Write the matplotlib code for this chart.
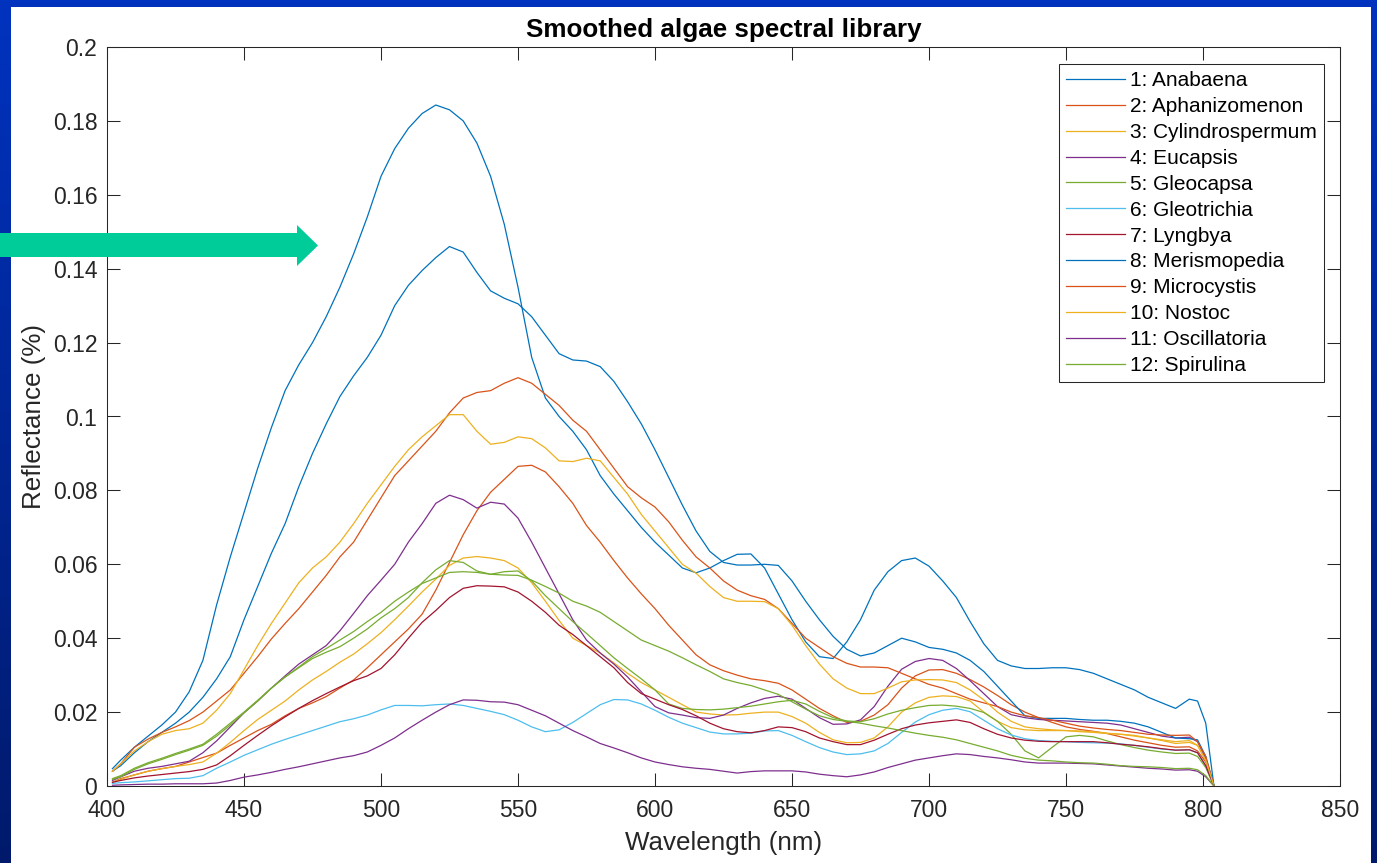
import numpy as np
import matplotlib.pyplot as plt
from matplotlib.patches import Polygon, Rectangle
from matplotlib.ticker import FuncFormatter

plt.rcParams['font.family'] = ['Liberation Sans', 'DejaVu Sans']

# wavelength grid (nm) the spectra were read on
wavelength = np.r_[402, np.arange(405, 800, 5), 798, 801, 804]

anabaena = [
    0.0047, 0.007, 0.0105, 0.0135, 0.0165, 0.020, 0.0255, 0.034, 0.049, 0.062,
    0.074, 0.086, 0.097, 0.107, 0.114, 0.120, 0.127, 0.135, 0.144, 0.154,
    0.165, 0.1725, 0.178, 0.182, 0.1843, 0.183, 0.180, 0.174, 0.165, 0.152,
    0.135, 0.116, 0.105, 0.100, 0.096, 0.091, 0.084, 0.079, 0.0745, 0.070,
    0.066, 0.0625, 0.059, 0.0577, 0.059, 0.061, 0.0627, 0.0628, 0.059, 0.052,
    0.045, 0.039, 0.035, 0.0345, 0.039, 0.045, 0.053, 0.058, 0.061, 0.0617,
    0.0595, 0.0555, 0.051, 0.0445, 0.0385, 0.034, 0.0325, 0.0318, 0.0318, 0.032,
    0.032, 0.0315, 0.0305, 0.029, 0.0275, 0.026, 0.024, 0.0225, 0.021, 0.0235,
    0.023, 0.017, 0.0]
aphanizomenon = [
    0.001, 0.002, 0.003, 0.004, 0.0047, 0.0053, 0.0065, 0.0077, 0.0089, 0.011,
    0.013, 0.015, 0.0167, 0.019, 0.021, 0.0225, 0.0242, 0.0265, 0.0287, 0.032,
    0.0355, 0.039, 0.0425, 0.0465, 0.053, 0.0605, 0.068, 0.0745, 0.0795, 0.083,
    0.0865, 0.0868, 0.085, 0.081, 0.0765, 0.0705, 0.066, 0.061, 0.0563, 0.052,
    0.048, 0.0435, 0.0395, 0.0355, 0.0328, 0.0312, 0.030, 0.029, 0.0285, 0.0278,
    0.026, 0.0235, 0.021, 0.019, 0.0172, 0.0175, 0.0192, 0.022, 0.0265, 0.0298,
    0.0314, 0.0315, 0.0305, 0.0288, 0.0268, 0.0245, 0.022, 0.020, 0.0185, 0.0172,
    0.016, 0.0153, 0.0148, 0.0142, 0.0133, 0.0124, 0.0117, 0.011, 0.0105, 0.0106,
    0.0095, 0.0065, 0.0]
cylindrospermum = [
    0.001, 0.0018, 0.003, 0.004, 0.0047, 0.0053, 0.0058, 0.0065, 0.0089, 0.0118,
    0.015, 0.018, 0.0205, 0.023, 0.026, 0.0287, 0.031, 0.0335, 0.0357, 0.0385,
    0.0415, 0.045, 0.0487, 0.0525, 0.056, 0.0597, 0.0617, 0.0621, 0.0617, 0.061,
    0.059, 0.055, 0.050, 0.0448, 0.040, 0.038, 0.036, 0.0333, 0.0305, 0.028,
    0.026, 0.024, 0.022, 0.020, 0.0195, 0.0192, 0.0193, 0.0197, 0.020, 0.020,
    0.0188, 0.017, 0.0145, 0.0125, 0.0117, 0.0118, 0.013, 0.016, 0.020, 0.0225,
    0.024, 0.0244, 0.0242, 0.023, 0.020, 0.0175, 0.0158, 0.0152, 0.015, 0.015,
    0.015, 0.0149, 0.0147, 0.0143, 0.014, 0.0135, 0.013, 0.0123, 0.0115, 0.0118,
    0.011, 0.007, 0.0]
eucapsis = [
    0.0015, 0.0025, 0.004, 0.0048, 0.0053, 0.006, 0.0067, 0.009, 0.0122, 0.016,
    0.0198, 0.023, 0.0265, 0.0298, 0.033, 0.0355, 0.038, 0.042, 0.0467, 0.0515,
    0.0557, 0.060, 0.066, 0.071, 0.0765, 0.0787, 0.0775, 0.0752, 0.0768, 0.0763,
    0.0725, 0.066, 0.059, 0.052, 0.045, 0.0395, 0.036, 0.033, 0.0295, 0.0255,
    0.0215, 0.0198, 0.0192, 0.0185, 0.0183, 0.0192, 0.021, 0.0225, 0.0237, 0.0243,
    0.0235, 0.021, 0.0185, 0.0167, 0.0168, 0.0179, 0.0215, 0.027, 0.0316, 0.0337,
    0.0345, 0.034, 0.0318, 0.0285, 0.025, 0.0215, 0.0193, 0.0185, 0.018, 0.0178,
    0.0176, 0.0174, 0.0172, 0.017, 0.0165, 0.0155, 0.0145, 0.0135, 0.013, 0.0132,
    0.012, 0.0075, 0.0]
gleocapsa = [
    0.0018, 0.0025, 0.0045, 0.006, 0.0072, 0.0085, 0.0097, 0.011, 0.0135, 0.0165,
    0.0198, 0.023, 0.0265, 0.0295, 0.032, 0.0345, 0.0362, 0.0377, 0.040, 0.0425,
    0.0455, 0.048, 0.051, 0.055, 0.0585, 0.061, 0.0605, 0.0582, 0.0573, 0.058,
    0.0582, 0.0555, 0.0515, 0.048, 0.0445, 0.0413, 0.038, 0.0347, 0.0318, 0.029,
    0.026, 0.0222, 0.021, 0.0207, 0.0206, 0.0208, 0.0212, 0.0216, 0.0222, 0.0228,
    0.0232, 0.0222, 0.0202, 0.0185, 0.0176, 0.0174, 0.0182, 0.0195, 0.0205, 0.0212,
    0.0218, 0.0219, 0.0216, 0.021, 0.0199, 0.0175, 0.014, 0.0095, 0.0076, 0.0105,
    0.0133, 0.0137, 0.0133, 0.0122, 0.0112, 0.0104, 0.0097, 0.0092, 0.0088, 0.0089,
    0.008, 0.005, 0.0]
gleotrichia = [
    0.0007, 0.0009, 0.0011, 0.0014, 0.0017, 0.002, 0.0021, 0.0028, 0.0048, 0.0065,
    0.0083, 0.0098, 0.0113, 0.0126, 0.0138, 0.015, 0.0162, 0.0174, 0.0182, 0.0192,
    0.0206, 0.0218, 0.0218, 0.0217, 0.022, 0.0222, 0.0218, 0.021, 0.0202, 0.0193,
    0.0178, 0.016, 0.0147, 0.0152, 0.0172, 0.0196, 0.022, 0.0234, 0.0233, 0.0222,
    0.0205, 0.0186, 0.017, 0.0158, 0.0146, 0.0141, 0.0141, 0.0143, 0.0149, 0.015,
    0.0137, 0.012, 0.0104, 0.0092, 0.0085, 0.0087, 0.0095, 0.0115, 0.0145, 0.0173,
    0.0193, 0.0205, 0.021, 0.0201, 0.0178, 0.0155, 0.0138, 0.0128, 0.0123, 0.0121,
    0.012, 0.0118, 0.0117, 0.0116, 0.0114, 0.011, 0.0105, 0.010, 0.0097, 0.0098,
    0.009, 0.0055, 0.0]
lyngbya = [
    0.001, 0.0015, 0.0022, 0.0027, 0.0031, 0.0035, 0.0039, 0.0045, 0.0057, 0.0082,
    0.011, 0.0137, 0.0163, 0.0187, 0.021, 0.0231, 0.025, 0.0268, 0.0285, 0.0298,
    0.0318, 0.0355, 0.040, 0.0443, 0.0475, 0.051, 0.0535, 0.0542, 0.0541, 0.0539,
    0.0525, 0.050, 0.047, 0.0435, 0.041, 0.038, 0.035, 0.032, 0.028, 0.025,
    0.0235, 0.022, 0.0207, 0.019, 0.017, 0.0155, 0.0147, 0.0144, 0.015, 0.016,
    0.0158, 0.0147, 0.013, 0.012, 0.0112, 0.0112, 0.0124, 0.014, 0.0155, 0.0165,
    0.0171, 0.0175, 0.0179, 0.0172, 0.0155, 0.014, 0.013, 0.0124, 0.0121, 0.012,
    0.012, 0.012, 0.012, 0.0117, 0.0113, 0.011, 0.0106, 0.0101, 0.0097, 0.0098,
    0.009, 0.0055, 0.0]
merismopedia = [
    0.004, 0.0055, 0.009, 0.012, 0.0145, 0.017, 0.020, 0.024, 0.029, 0.035,
    0.045, 0.054, 0.063, 0.071, 0.081, 0.090, 0.098, 0.1054, 0.111, 0.116,
    0.122, 0.130, 0.1355, 0.1395, 0.143, 0.146, 0.1445, 0.139, 0.134, 0.132,
    0.1305, 0.127, 0.122, 0.117, 0.1153, 0.115, 0.1135, 0.1095, 0.104, 0.098,
    0.091, 0.0835, 0.076, 0.069, 0.0635, 0.0605, 0.0598, 0.0598, 0.060, 0.0597,
    0.0555, 0.050, 0.045, 0.0405, 0.037, 0.0352, 0.036, 0.038, 0.040, 0.039,
    0.0375, 0.037, 0.036, 0.034, 0.031, 0.027, 0.023, 0.019, 0.0183, 0.0183,
    0.0183, 0.018, 0.0178, 0.0178, 0.0175, 0.017, 0.016, 0.0145, 0.013, 0.0128,
    0.0125, 0.008, 0.0]
microcystis = [
    0.004, 0.006, 0.0105, 0.0127, 0.0145, 0.016, 0.0177, 0.020, 0.023, 0.026,
    0.0305, 0.035, 0.0398, 0.044, 0.048, 0.0525, 0.057, 0.062, 0.066, 0.072,
    0.078, 0.084, 0.088, 0.092, 0.096, 0.101, 0.105, 0.1065, 0.107, 0.109,
    0.1105, 0.109, 0.106, 0.103, 0.099, 0.096, 0.091, 0.086, 0.081, 0.078,
    0.0755, 0.0715, 0.0665, 0.062, 0.059, 0.0555, 0.053, 0.0515, 0.0505, 0.048,
    0.044, 0.040, 0.0375, 0.035, 0.0332, 0.0322, 0.0322, 0.032, 0.0305, 0.029,
    0.0275, 0.0265, 0.025, 0.0235, 0.0225, 0.0215, 0.020, 0.019, 0.0185, 0.0178,
    0.017, 0.0162, 0.0157, 0.0153, 0.015, 0.0145, 0.014, 0.0138, 0.0137, 0.0138,
    0.012, 0.008, 0.0]
nostoc = [
    0.004, 0.006, 0.0095, 0.012, 0.014, 0.015, 0.0155, 0.017, 0.0205, 0.025,
    0.0315, 0.038, 0.044, 0.0495, 0.055, 0.059, 0.062, 0.066, 0.071, 0.0765,
    0.0815, 0.0865, 0.091, 0.0945, 0.0975, 0.1005, 0.1005, 0.096, 0.0925, 0.093,
    0.0945, 0.094, 0.0915, 0.088, 0.0878, 0.0887, 0.088, 0.0835, 0.079, 0.0735,
    0.069, 0.0645, 0.060, 0.0576, 0.054, 0.051, 0.050, 0.050, 0.0499, 0.048,
    0.0435, 0.038, 0.033, 0.029, 0.0265, 0.025, 0.025, 0.0265, 0.0282, 0.0287,
    0.0288, 0.0287, 0.028, 0.026, 0.0233, 0.020, 0.0175, 0.016, 0.0155, 0.0152,
    0.015, 0.0147, 0.0145, 0.0142, 0.014, 0.0137, 0.013, 0.0125, 0.012, 0.0123,
    0.011, 0.007, 0.0]
oscillatoria = [
    0.0002, 0.0003, 0.0004, 0.0005, 0.0005, 0.0006, 0.0006, 0.0006, 0.0008, 0.0015,
    0.0024, 0.003, 0.0037, 0.0045, 0.0052, 0.006, 0.0068, 0.0076, 0.0082, 0.0092,
    0.011, 0.013, 0.0155, 0.0178, 0.020, 0.022, 0.0233, 0.0232, 0.0228, 0.0227,
    0.022, 0.0205, 0.019, 0.017, 0.015, 0.0133, 0.0115, 0.0103, 0.009, 0.0076,
    0.0065, 0.0058, 0.0052, 0.0048, 0.0045, 0.004, 0.0035, 0.0039, 0.0041, 0.0041,
    0.0041, 0.0038, 0.0032, 0.0028, 0.0025, 0.003, 0.0038, 0.005, 0.006, 0.007,
    0.0076, 0.0082, 0.0087, 0.0085, 0.008, 0.0076, 0.0071, 0.0065, 0.0062, 0.0062,
    0.0062, 0.0061, 0.006, 0.0057, 0.0054, 0.0051, 0.0048, 0.0046, 0.0043, 0.0044,
    0.004, 0.0025, 0.0]
spirulina = [
    0.002, 0.0028, 0.0048, 0.0063, 0.0075, 0.0088, 0.010, 0.0113, 0.014, 0.017,
    0.020, 0.0232, 0.0265, 0.0295, 0.0322, 0.035, 0.0372, 0.0395, 0.0418, 0.0445,
    0.047, 0.050, 0.0525, 0.0548, 0.0563, 0.0578, 0.058, 0.0578, 0.0573, 0.0571,
    0.057, 0.0557, 0.054, 0.0522, 0.050, 0.0487, 0.047, 0.0445, 0.042, 0.0395,
    0.038, 0.0365, 0.0347, 0.0328, 0.031, 0.029, 0.028, 0.0272, 0.026, 0.0248,
    0.0228, 0.0208, 0.019, 0.018, 0.0175, 0.017, 0.0163, 0.0157, 0.015, 0.0143,
    0.0137, 0.0132, 0.0125, 0.0115, 0.0105, 0.0095, 0.0083, 0.0075, 0.007, 0.0068,
    0.0065, 0.0063, 0.0062, 0.0059, 0.0055, 0.0053, 0.0052, 0.005, 0.0047, 0.0048,
    0.0044, 0.0028, 0.0]

species = ['1: Anabaena', '2: Aphanizomenon', '3: Cylindrospermum', '4: Eucapsis',
           '5: Gleocapsa', '6: Gleotrichia', '7: Lyngbya', '8: Merismopedia',
           '9: Microcystis', '10: Nostoc', '11: Oscillatoria', '12: Spirulina']
spectra = [anabaena, aphanizomenon, cylindrospermum, eucapsis, gleocapsa,
           gleotrichia, lyngbya, merismopedia, microcystis, nostoc,
           oscillatoria, spirulina]
# matlab default line colours, cycled
matlab_colors = ['#0072BD', '#D95319', '#EDB120', '#7E2F8E', '#77AC30',
                 '#4DBEEE', '#A2142F']

W, H = 1377, 863
fig = plt.figure(figsize=(W / 100, H / 100), dpi=100)

# slide background: blue gradient with a white panel
bg = fig.add_axes([0, 0, 1, 1], zorder=-5)
g = np.linspace(0, 1, 256)[:, None, None]
top = np.array([0.0, 0.20, 0.75])
bottom = np.array([0.0, 0.10, 0.42])
bg.imshow(top * (1 - g) + bottom * g, aspect='auto', extent=[0, 1, 0, 1])
bg.add_patch(Rectangle((11 / W, 0), (1371 - 11) / W, (H - 7) / H,
                       facecolor='white', edgecolor='none'))
bg.set_xlim(0, 1)
bg.set_ylim(0, 1)
bg.axis('off')

ax = fig.add_axes([107 / W, (H - 786) / H, (1340 - 107) / W, (786 - 47) / H])
for i, (name, vals) in enumerate(zip(species, spectra)):
    ax.plot(wavelength, vals, color=matlab_colors[i % 7], lw=0.9, label=name,
            solid_joinstyle='round')

ax.set_xlim(400, 850)
ax.set_ylim(0, 0.2)
ax.set_xticks(np.arange(400, 851, 50))
ax.set_yticks(np.arange(0, 0.201, 0.02))
ax.yaxis.set_major_formatter(FuncFormatter(lambda v, p: '%g' % round(v, 4)))
ax.tick_params(direction='in', top=True, right=True, length=9.5, width=0.75,
               color='#262626', labelcolor='#262626', labelsize=16.5)
ax.tick_params(axis='x', pad=9)
ax.tick_params(axis='y', pad=7)
for s in ax.spines.values():
    s.set_color('#262626')
    s.set_linewidth(0.75)

ax.set_title('Smoothed algae spectral library', fontsize=18.7, fontweight='bold',
             color='black', pad=7)
ax.set_xlabel('Wavelength (nm)', fontsize=18.7, color='#262626', labelpad=7)
ax.set_ylabel('Reflectance (%)', fontsize=18.7, color='#262626', labelpad=5)

leg = ax.legend(loc='upper right', bbox_to_anchor=(0.987, 0.977),
                borderaxespad=0, fontsize=15, fancybox=False,
                edgecolor='#262626', handlelength=2.8, handletextpad=0.25,
                labelspacing=0.33, borderpad=0.35, framealpha=1)
leg.get_frame().set_linewidth(0.75)

# green pointer arrow on the slide
arrow_px = [(0, 233), (297, 233), (297, 225), (318, 245.5), (297, 266),
            (297, 257), (0, 257)]
fig.add_artist(Polygon([(x / W, 1 - y / H) for x, y in arrow_px], closed=True,
                       transform=fig.transFigure, facecolor='#00CC99',
                       edgecolor='none', zorder=10))

plt.savefig('out.png', dpi=100)
plt.close()
